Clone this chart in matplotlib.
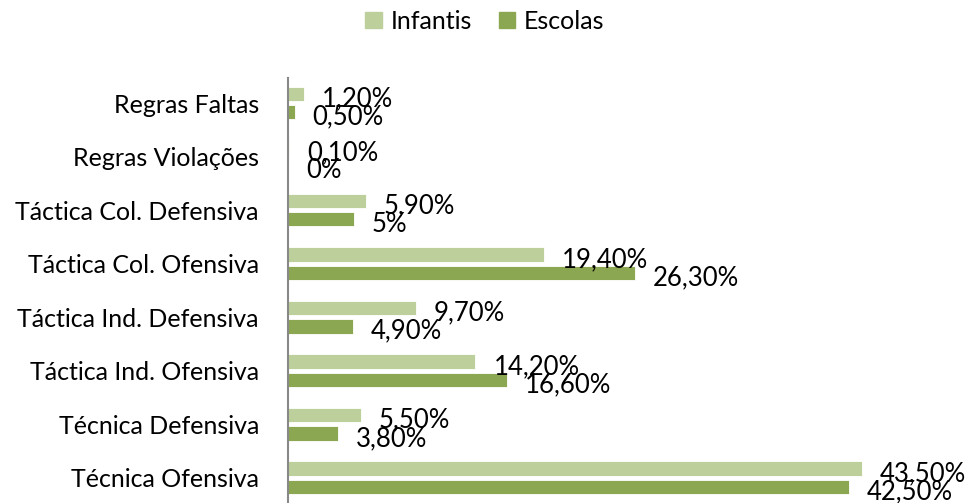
import matplotlib
matplotlib.use("Agg")
import matplotlib.pyplot as plt
from matplotlib.patches import Patch
import numpy as np

categories = ["Regras Faltas", "Regras Violações", "Táctica Col. Defensiva",
              "Táctica Col. Ofensiva", "Táctica Ind. Defensiva", "Táctica Ind. Ofensiva",
              "Técnica Defensiva", "Técnica Ofensiva"]
infantis = [1.2, 0.1, 5.9, 19.4, 9.7, 14.2, 5.5, 43.5]
escolas = [0.5, 0.0, 5.0, 26.3, 4.9, 16.6, 3.8, 42.5]
infantis_labels = ["1,20%", "0,10%", "5,90%", "19,40%", "9,70%", "14,20%", "5,50%", "43,50%"]
escolas_labels = ["0,50%", "0%", "5%", "26,30%", "4,90%", "16,60%", "3,80%", "42,50%"]

light = "#BDD09B"
dark = "#8CA752"

plt.rcParams['font.family'] = ['Lato', 'DejaVu Sans']

fig = plt.figure(figsize=(9.7, 5.03), dpi=100)
ax = fig.add_axes([0.297, -0.003, 0.68, 0.848])

y = np.arange(len(categories))
h = 0.27
off = 0.17
ax.barh(y - off, infantis, height=h, color=light, edgecolor="white", linewidth=0.6)
ax.barh(y + off, escolas, height=h, color=dark, edgecolor="white", linewidth=0.6)

for yi, v, lab in zip(y - off, infantis, infantis_labels):
    ax.annotate(lab, (v, yi), xytext=(18, -5), textcoords="offset pixels",
                ha="left", va="center", fontsize=18.5, color="black")
for yi, v, lab in zip(y + off, escolas, escolas_labels):
    ax.annotate(lab, (v, yi), xytext=(18, -5), textcoords="offset pixels",
                ha="left", va="center", fontsize=18.5, color="black")

ax.set_xlim(0, 50)
ax.set_ylim(7.5, -0.47)
ax.set_yticks(y)
ax.set_yticklabels(categories, fontsize=18)
ax.tick_params(axis="y", length=0, pad=21)
ax.set_xticks([])
for s in ["top", "right", "bottom"]:
    ax.spines[s].set_visible(False)
ax.spines["left"].set_color("#888888")
ax.spines["left"].set_linewidth(1.5)

handles = [Patch(color=light, label="Infantis"), Patch(color=dark, label="Escolas")]
fig.legend(handles=handles, loc="center", bbox_to_anchor=(0.5, 0.958), ncol=2,
           frameon=False, fontsize=18, handlelength=0.65, handleheight=0.65,
           handletextpad=0.35, columnspacing=1.1)

fig.savefig("out.png", dpi=100)
